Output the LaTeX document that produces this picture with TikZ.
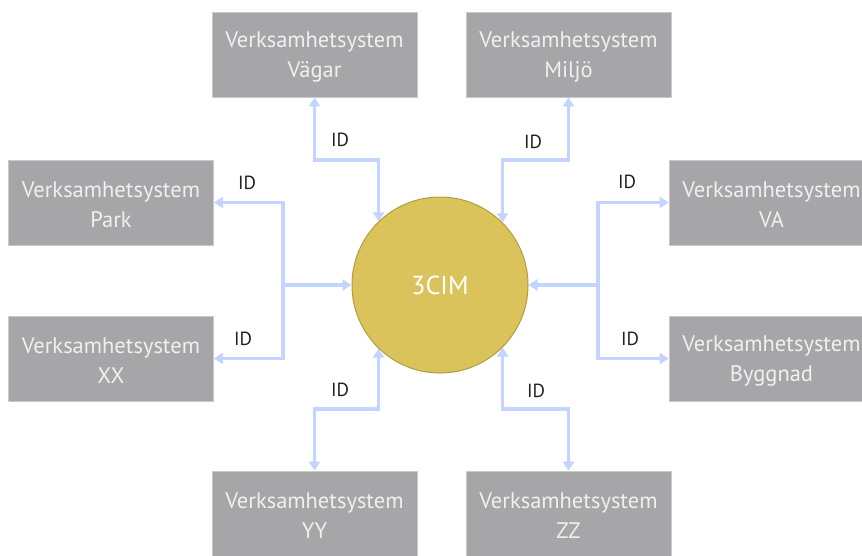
\documentclass[tikz,border=0pt]{standalone}
\usepackage{fontspec}
\setmainfont{PT Sans}
\usetikzlibrary{arrows.meta}
\definecolor{boxgrey}{HTML}{A6A6A8}
\definecolor{boxedge}{HTML}{C9C9CB}
\definecolor{boxtext}{HTML}{F0F0F0}
\definecolor{linkblue}{HTML}{C3D5FE}
\definecolor{hubfill}{HTML}{DAC35B}
\definecolor{hubedge}{HTML}{B49C3F}
\definecolor{idtext}{HTML}{222222}
\tikzset{
  sysbox/.style={rectangle, fill=boxgrey, draw=boxedge, line width=0.8pt,
    minimum width=205pt, minimum height=85pt, inner sep=0pt,
    text=boxtext, align=center, font=\fontsize{22.5}{30}\selectfont},
  boxtxt/.style={text=boxtext, align=center, inner sep=0pt,
    font=\fontsize{22.5}{30}\selectfont},
  hub/.style={circle, fill=hubfill, draw=hubedge, line width=1pt,
    minimum size=176pt, inner sep=0pt, text=white,
    font=\fontsize{26}{30}\selectfont},
  link/.style={draw=linkblue, line width=3.2pt,
    arrows={-Triangle[width=11pt,length=9pt,fill=linkblue]}},
  biglink/.style={link, arrows={Triangle[width=11pt,length=9pt,fill=linkblue]-Triangle[width=11pt,length=9pt,fill=linkblue]}},
  idlabel/.style={text=idtext, font=\fontsize{19}{22}\selectfont, inner sep=0pt}
}
\begin{document}
\begin{tikzpicture}[x=1pt, y=-1pt]
\useasboundingbox (0,0) rectangle (862,555);
\fill[white] (0,0) rectangle (862,555);

% central hub
\node[hub] (cim) at (440,285) {3CIM};

% surrounding systems (box plus its two-line caption, set a little low)
\newcommand{\sysnode}[3]{%
  \node[sysbox] (#1) at (#2) {};
  \node[boxtxt] (#1-txt) at ([yshift=-2.5pt]#1.center) {#3};
}
\sysnode{vagar}{314.5,54.5}{Verksamhetsystem\\Vägar}
\sysnode{miljo}{568.5,54.5}{Verksamhetsystem\\Miljö}
\sysnode{park}{111,202.5}{Verksamhetsystem\\Park}
\sysnode{xx}{111,358.5}{Verksamhetsystem\\XX}
\sysnode{va}{771.5,202.5}{Verksamhetsystem\\VA}
\sysnode{byggnad}{771.5,358.5}{Verksamhetsystem\\Byggnad}
\sysnode{yy}{314.5,513.5}{Verksamhetsystem\\YY}
\sysnode{zz}{568.5,513.5}{Verksamhetsystem\\ZZ}

% junction points of the connectors
\coordinate (jv) at (314.5,160);
\coordinate (jm) at (568.5,160);
\coordinate (jy) at (314.5,409);
\coordinate (jz) at (568.5,409);
\coordinate (jl) at (283,285);
\coordinate (jr) at (598,285);

% top and bottom links
\draw[biglink] (vagar.south) -- (jv) -| (cim.134);
\draw[biglink] (miljo.south) -- (jm) -| (cim.45);
\draw[biglink] (yy.north) -- (jy) -| (cim.226);
\draw[biglink] (zz.north) -- (jz) -| (cim.315);

% left branch
\draw[biglink] (park.east) -| (jl) |- (xx.east);
\draw[link] (jl) -- (cim.west);

% right branch
\draw[biglink] (va.west) -| (jr) |- (byggnad.west);
\draw[link] (jr) -- (cim.east);

% ID labels
\node[idlabel] (id1) at (340,140) {ID};
\node[idlabel] (id2) at (533,142) {ID};
\node[idlabel] (id3) at (247,183) {ID};
\node[idlabel] (id4) at (243,339) {ID};
\node[idlabel] (id5) at (627,182) {ID};
\node[idlabel] (id6) at (630,339) {ID};
\node[idlabel] (id7) at (340,390) {ID};
\node[idlabel] (id8) at (536,391) {ID};
\end{tikzpicture}
\end{document}
